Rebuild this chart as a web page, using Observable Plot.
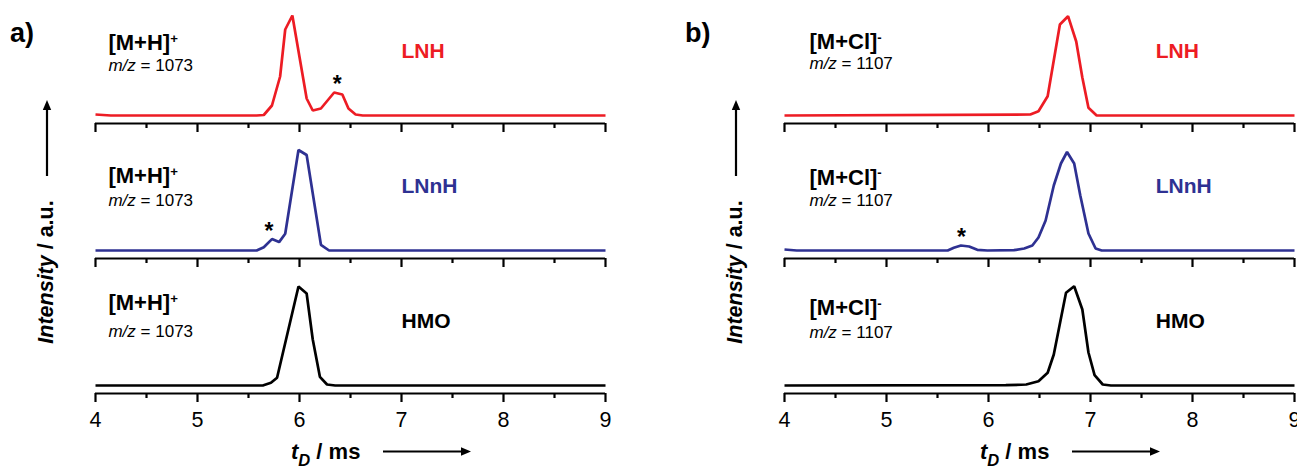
<!DOCTYPE html>
<html><head><meta charset="utf-8">
<script src="https://cdn.jsdelivr.net/npm/d3@7"></script>
<script src="https://cdn.jsdelivr.net/npm/@observablehq/plot@0.6"></script>
<style>html,body{margin:0;padding:0;background:#fff;overflow:hidden}</style>
</head><body><div id="chart"></div>
<script>
// ---- categories & labels ----
const panels = ["a", "b"];
const panelTags = ["a)", "b)"];
const traces = ["LNH", "LNnH", "HMO"];
const traceColors = ["#ed1c24", "#2e3192", "#000000"];
const ionLabels = ["[M+H]+", "[M+Cl]-"];
const mzLabels = ["m/z = 1073", "m/z = 1107"];
const majorTicks = [4, 5, 6, 7, 8, 9];
const minorTicks = [4.5, 5.5, 6.5, 7.5, 8.5];
const xDomain = [4, 9];
const yDomain = [-8, 102];

// ---- series: drift time (ms) and normalized intensity ----
const a_LNH_t  = [4.00, 4.15, 5.58, 5.65, 5.73, 5.81, 5.86, 5.93, 6.07, 6.13, 6.21, 6.34, 6.42, 6.48, 6.55, 6.62, 9.00];
const a_LNH_v  = [1, 0, 0, 0.5, 10, 39, 86, 100, 17, 5, 7, 23, 21, 7, 1, 0, 0];
const a_LNnH_t = [4.00, 5.58, 5.65, 5.73, 5.80, 5.86, 5.99, 6.07, 6.21, 6.29, 9.00];
const a_LNnH_v = [0, 0, 3.3, 11.4, 8.4, 16.7, 100.5, 95.5, 5.7, 0, 0];
const a_HMO_t  = [4.00, 5.64, 5.72, 5.78, 5.99, 6.07, 6.13, 6.20, 6.27, 6.35, 9.00];
const a_HMO_v  = [0, 0, 2.7, 7.7, 99, 92, 46, 8.7, 1, 0, 0];
const b_LNH_t  = [4.00, 6.41, 6.49, 6.58, 6.70, 6.78, 6.86, 6.92, 6.98, 7.06, 9.00];
const b_LNH_v  = [0, 1, 4.3, 19.3, 91, 99.3, 74, 38, 7.7, 0, 0];
const b_LNnH_t = [4.00, 4.12, 5.60, 5.66, 5.73, 5.81, 5.89, 5.99, 6.25, 6.35, 6.43, 6.49, 6.56, 6.64, 6.71, 6.77, 6.84, 6.90, 6.98, 7.05, 7.11, 9.00];
const b_LNnH_v = [1, 0, 0, 2.7, 5, 4, 0.7, 0, 0.3, 2, 5, 13, 30, 65, 87, 98.5, 87, 55, 17, 2, 0, 0];
const b_HMO_t  = [4.00, 6.17, 6.37, 6.49, 6.58, 6.64, 6.76, 6.84, 6.92, 6.98, 7.04, 7.12, 7.20, 9.00];
const b_HMO_v  = [0, 0.3, 1, 4.3, 12.7, 31, 92.7, 99.3, 76, 33, 10.3, 1, 0, 0];

// ---- annotation anchors (data coordinates) ----
const ionLabelX = [4.127, 4.245];
const ionLabelY = [[65.2, 67.7, 75.5], [66.2, 66.0, 70.5]];
const mzLabelY  = [[44.5, 45.0, 48.8], [46.5, 44.3, 47.5]];
const nameX = [7.0, 7.64];
const nameY = [64.5, 64.5, 64.5];
const starPanel = ["a", "a", "b"];
const starTrace = ["LNH", "LNnH", "LNnH"];
const starX = [6.37, 5.70, 5.735];
const starY = [23.9, 11.4, 5.4];

// ---- build tables ----
const seriesT = {a: {LNH: a_LNH_t, LNnH: a_LNnH_t, HMO: a_HMO_t}, b: {LNH: b_LNH_t, LNnH: b_LNnH_t, HMO: b_HMO_t}};
const seriesV = {a: {LNH: a_LNH_v, LNnH: a_LNnH_v, HMO: a_HMO_v}, b: {LNH: b_LNH_v, LNnH: b_LNnH_v, HMO: b_HMO_v}};
const rows = [];
const cells = [];
panels.forEach((p, pi) => traces.forEach((tr, ti) => {
  seriesT[p][tr].forEach((t, k) => rows.push({panel: p, trace: tr, t, v: seriesV[p][tr][k]}));
  cells.push({panel: p, trace: tr, ion: ionLabels[pi], mz: mzLabels[pi],
    ionX: ionLabelX[pi], ionY: ionLabelY[pi][ti], mzY: mzLabelY[pi][ti], nameX: nameX[pi], nameY: nameY[ti]});
}));
const stars = starX.map((x, i) => ({panel: starPanel[i], trace: starTrace[i], x, y: starY[i]}));

const FONT = "'Liberation Sans', Arial, Helvetica, sans-serif";

const plot = Plot.plot({
  width: 1297, height: 468,
  marginTop: 12.5, marginBottom: 74.5, marginLeft: 95, marginRight: 3,
  style: {fontFamily: FONT, background: "#fff", color: "#000"},
  fx: {domain: panels, paddingInner: 0.2598, paddingOuter: 0, axis: null},
  fy: {domain: traces, paddingInner: 0.188, paddingOuter: 0, axis: null},
  x: {domain: xDomain},
  y: {domain: yDomain, axis: null},
  color: {domain: traces, range: traceColors},
  marks: [
    Plot.ruleY([yDomain[0]], {strokeWidth: 2.2}),
    Plot.axisX(majorTicks, {tickSize: 9, strokeWidth: 2.2, fill: "none", label: null, facetAnchor: null}),
    Plot.axisX(minorTicks, {tickSize: 5, strokeWidth: 2.2, fill: "none", label: null, facetAnchor: null}),
    Plot.axisX(majorTicks, {tickSize: 0, tickPadding: 18, fontSize: 21.5, label: null, tickFormat: d => String(d)}),
    Plot.line(rows, {x: "t", y: "v", fx: "panel", fy: "trace", z: "trace", stroke: "trace", strokeWidth: 2.7, strokeLinejoin: "miter", strokeLinecap: "butt"}),
    Plot.text(cells, {x: "ionX", y: "ionY", text: "ion", fx: "panel", fy: "trace", textAnchor: "start", lineAnchor: "bottom", fontSize: 22, fontWeight: "bold", fill: "#000"}),
    Plot.text(cells, {x: "ionX", y: "mzY", text: "mz", fx: "panel", fy: "trace", textAnchor: "start", lineAnchor: "bottom", fontSize: 17, fill: "#000"}),
    Plot.text(cells, {x: "nameX", y: "nameY", text: "trace", fx: "panel", fy: "trace", fill: "trace", textAnchor: "start", lineAnchor: "middle", fontSize: 21, fontWeight: "bold"}),
    Plot.text(stars, {x: "x", y: "y", text: () => "*", fx: "panel", fy: "trace", lineAnchor: "bottom", fontSize: 23, fontWeight: "bold", fill: "#000"})
  ]
});

document.getElementById("chart").appendChild(plot);

// ---- rich text: superscripts and italics ----
const svg = d3.select(plot.tagName.toLowerCase() === "svg" ? plot : plot.querySelector("svg"));
svg.selectAll("text").each(function() {
  const el = d3.select(this);
  const s = this.textContent;
  if (ionLabels.includes(s)) {
    el.text(null);
    el.append("tspan").text(s.slice(0, -1));
    el.append("tspan").attr("dy", "-0.55em").attr("font-size", "0.6em").text(s.slice(-1));
  } else if (mzLabels.includes(s)) {
    el.text(null);
    el.append("tspan").attr("font-style", "italic").text("m/z");
    el.append("tspan").text(s.slice(3));
  }
});

// ---- panel decorations: tags, axis titles with arrows ----
const fx = plot.scale("fx");
const deco = svg.append("g").attr("font-family", FONT).attr("fill", "#000").attr("text-anchor", "start");
function arrow(g, x1, y1, x2, y2) {
  const ang = Math.atan2(y2 - y1, x2 - x1), L = 10, W = 4.2;
  const bx = x2 - L * Math.cos(ang), by = y2 - L * Math.sin(ang);
  g.append("line").attr("x1", x1).attr("y1", y1).attr("x2", bx).attr("y2", by)
    .attr("stroke", "#000").attr("stroke-width", 2.2);
  const px = -Math.sin(ang) * W, py = Math.cos(ang) * W;
  g.append("path").attr("d", `M${x2},${y2}L${bx + px},${by + py}L${bx - px},${by - py}Z`).attr("fill", "#000");
}
const tagOffset = [85, 99];
panels.forEach((p, i) => {
  const left = fx.apply(p);
  deco.append("text").attr("x", left - tagOffset[i]).attr("y", 42).attr("font-size", 27).attr("font-weight", "bold").text(panelTags[i]);
  // y title
  const yt = deco.append("text").attr("transform", `translate(${left - 42},272) rotate(-90)`)
    .attr("text-anchor", "middle").attr("font-size", 21.5).attr("font-weight", "bold");
  yt.append("tspan").attr("font-style", "italic").text("Intensity");
  yt.append("tspan").text(" / a.u.");
  arrow(deco, left - 48, 176, left - 48, 100);
  // x title
  const xt = deco.append("text").attr("x", left + 196).attr("y", 459).attr("font-size", 22).attr("font-weight", "bold");
  xt.append("tspan").attr("font-style", "italic").text("t");
  xt.append("tspan").attr("font-style", "italic").attr("font-size", "0.75em").attr("dy", "0.45em").text("D");
  xt.append("tspan").attr("dy", "-0.34em").text(" / ms");
  arrow(deco, left + 288, 451.5, left + 376, 451.5);
});
</script>
</body></html>
